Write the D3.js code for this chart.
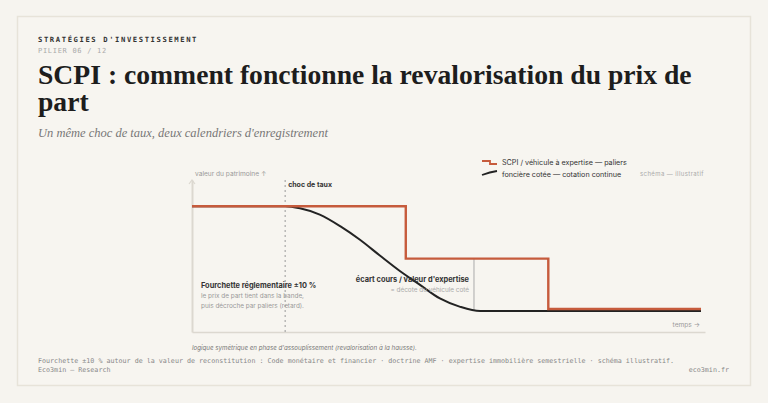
<!DOCTYPE html>
<html lang="fr">
<head>
<meta charset="utf-8">
<script src="https://cdn.jsdelivr.net/npm/d3@7"></script>
<style>
  html, body { margin: 0; padding: 0; background: #f6f4ef; }
  svg { display: block; }
  .mono { font-family: "DejaVu Sans Mono", "Liberation Mono", monospace; }
  .serif { font-family: "Liberation Serif", "DejaVu Serif", serif; }
  .sans { font-family: Inter, "Liberation Sans", sans-serif; }
</style>
</head>
<body>
<svg id="chart" width="768" height="403"></svg>
<script>
// données du schéma (indice de valeur, temps arbitraire 0-100)
const scpiT = [0, 42, 70, 100];
const scpiV = [100, 95, 90.2, 90.2];

const coteeT = [0, 18.3, 21.2, 25.1, 29.1, 33.0, 36.9, 40.9, 44.8, 48.7, 52.7, 56.6, 60.5, 100];
const coteeV = [100, 100, 99.8, 99.2, 98.1, 96.8, 95.3, 93.8, 92.5, 91.2, 90.4, 90.0, 90.0, 90.0];

const chocT = 18.3;
const ecartT = 55.4;
const ecartV = [95, 90.0];

const legendLabels = ["SCPI / véhicule à expertise — paliers", "foncière cotée — cotation continue"];

const RED = "#c65b3c", INK = "#232323";

const svg = d3.select("#chart");

// carte
svg.append("rect")
  .attr("x", 17.5).attr("y", 16.5).attr("width", 733).attr("height", 369)
  .attr("fill", "#f7f5f0").attr("stroke", "#e7e3d9").attr("stroke-width", 1.5);

// en-tête
svg.append("text").attr("class", "mono")
  .attr("x", 38).attr("y", 42)
  .attr("font-size", 7.2).attr("font-weight", "bold").attr("letter-spacing", 1.6)
  .attr("fill", "#333")
  .text("STRATÉGIES D'INVESTISSEMENT");
svg.append("text").attr("class", "mono")
  .attr("x", 38).attr("y", 53)
  .attr("font-size", 7).attr("letter-spacing", 0.7)
  .attr("fill", "#aaa")
  .text("PILIER 06 / 12");

const title = svg.append("text").attr("class", "serif")
  .attr("font-weight", "bold").attr("font-size", 26).attr("fill", "#1d1d1d");
const t1 = title.append("tspan").attr("x", 38).attr("y", 84)
  .text("SCPI : comment fonctionne la revalorisation du prix de");
title.append("tspan").attr("x", 38).attr("y", 111).text("part");
// ajuste la taille pour tenir sur la largeur de la carte
const w1 = t1.node().getComputedTextLength();
title.attr("font-size", 26 * 654 / w1);

svg.append("text").attr("class", "serif")
  .attr("x", 38).attr("y", 137)
  .attr("font-size", 12.5).attr("font-style", "italic").attr("fill", "#777")
  .text("Un même choc de taux, deux calendriers d'enregistrement");

// zone du graphique
const x = d3.scaleLinear().domain([0, 100]).range([192, 701]);
const y = d3.scaleLinear().domain([88, 102.5]).range([332, 180]);

// axes (sans graduations)
svg.append("g")
  .attr("transform", `translate(0,${y(88)})`)
  .call(d3.axisBottom(d3.scaleLinear().domain([0, 1]).range([192, 705])).ticks(0).tickSizeOuter(0))
  .call(g => g.select(".domain").attr("stroke", "#dcd8d0").attr("stroke-width", 1.5));
svg.append("g")
  .attr("transform", `translate(${x(0)},0)`)
  .call(d3.axisLeft(y).ticks(0).tickSizeOuter(0))
  .call(g => g.select(".domain").attr("stroke", "#dcd8d0").attr("stroke-width", 2));
svg.append("path")
  .attr("d", `M${x(0) - 3},${y(102.5) + 4} L${x(0)},${y(102.5)} L${x(0) + 3},${y(102.5) + 4}`)
  .attr("fill", "none").attr("stroke", "#dcd8d0").attr("stroke-width", 1.2);

svg.append("text").attr("class", "sans")
  .attr("x", 195).attr("y", 176).attr("font-size", 6.6).attr("fill", "#999")
  .text("valeur du patrimoine ↑");
svg.append("text").attr("class", "sans")
  .attr("x", 700).attr("y", 327).attr("text-anchor", "end")
  .attr("font-size", 6.6).attr("fill", "#999")
  .text("temps →");

// choc de taux
svg.append("line")
  .attr("x1", x(chocT)).attr("x2", x(chocT))
  .attr("y1", y(102.5)).attr("y2", y(88))
  .attr("stroke", "#999").attr("stroke-width", 1).attr("stroke-dasharray", "2,3");
svg.append("text").attr("class", "sans")
  .attr("x", x(chocT) + 3).attr("y", 187)
  .attr("font-size", 7).attr("font-weight", "bold").attr("fill", "#333")
  .text("choc de taux");

// écart
svg.append("line")
  .attr("x1", x(ecartT)).attr("x2", x(ecartT))
  .attr("y1", y(ecartV[0])).attr("y2", y(ecartV[1]))
  .attr("stroke", "#aaa").attr("stroke-width", 1);

// courbes
const cotee = coteeT.map((t, i) => [t, coteeV[i]]);
const scpi = scpiT.map((t, i) => [t, scpiV[i]]);

svg.append("path")
  .datum(cotee)
  .attr("d", d3.line().x(d => x(d[0])).y(d => y(d[1])).curve(d3.curveMonotoneX))
  .attr("fill", "none").attr("stroke", INK).attr("stroke-width", 2);

svg.append("path")
  .datum(scpi)
  .attr("d", d3.line().x(d => x(d[0])).y(d => y(d[1])).curve(d3.curveStepAfter))
  .attr("fill", "none").attr("stroke", RED).attr("stroke-width", 2.4);

// annotations
const fourchette = svg.append("g").attr("class", "sans");
fourchette.append("text").attr("x", 201).attr("y", 288)
  .attr("font-size", 7.4).attr("font-weight", "bold").attr("fill", "#333")
  .text("Fourchette réglementaire ±10 %");
fourchette.append("text").attr("x", 201).attr("y", 298)
  .attr("font-size", 6.4).attr("fill", "#999")
  .text("le prix de part tient dans la bande,");
fourchette.append("text").attr("x", 201).attr("y", 308)
  .attr("font-size", 6.4).attr("fill", "#999")
  .text("puis décroche par paliers (retard).");

const ecart = svg.append("g").attr("class", "sans").attr("text-anchor", "end");
ecart.append("text").attr("x", 469).attr("y", 282)
  .attr("font-size", 7.4).attr("font-weight", "bold").attr("fill", "#333")
  .text("écart cours / valeur d'expertise");
ecart.append("text").attr("x", 469).attr("y", 292)
  .attr("font-size", 6.4).attr("fill", "#aaa")
  .text("= décote du véhicule coté");

// légende
const legend = svg.append("g").attr("class", "sans");
legend.append("path")
  .attr("d", "M482,161 L490,161 L490,164 L497,164")
  .attr("fill", "none").attr("stroke", RED).attr("stroke-width", 1.8);
legend.append("path")
  .attr("d", "M482,175 Q490,172 497,171")
  .attr("fill", "none").attr("stroke", INK).attr("stroke-width", 1.8);
legend.selectAll("text.lab")
  .data(legendLabels)
  .join("text").attr("class", "lab")
  .attr("x", 502).attr("y", (d, i) => 165 + i * 11.5)
  .attr("font-size", 7.2).attr("fill", "#333")
  .text(d => d);
svg.append("text").attr("class", "sans")
  .attr("x", 640).attr("y", 176)
  .attr("font-size", 6).attr("letter-spacing", 0.4).attr("fill", "#aaa")
  .text("schéma — illustratif");

// pied
svg.append("text").attr("class", "sans")
  .attr("x", 192).attr("y", 350)
  .attr("font-size", 6.2).attr("font-style", "italic").attr("fill", "#777")
  .text("logique symétrique en phase d'assouplissement (revalorisation à la hausse).");
svg.append("text").attr("class", "mono")
  .attr("x", 38).attr("y", 363)
  .attr("font-size", 6.7).attr("fill", "#888")
  .text("Fourchette ±10 % autour de la valeur de reconstitution : Code monétaire et financier · doctrine AMF · expertise immobilière semestrielle · schéma illustratif.");
svg.append("text").attr("class", "mono")
  .attr("x", 38).attr("y", 372)
  .attr("font-size", 6.7).attr("fill", "#888")
  .text("Eco3min — Research");
svg.append("text").attr("class", "mono")
  .attr("x", 729).attr("y", 372).attr("text-anchor", "end")
  .attr("font-size", 6.7).attr("fill", "#888")
  .text("eco3min.fr");
</script>
</body>
</html>
